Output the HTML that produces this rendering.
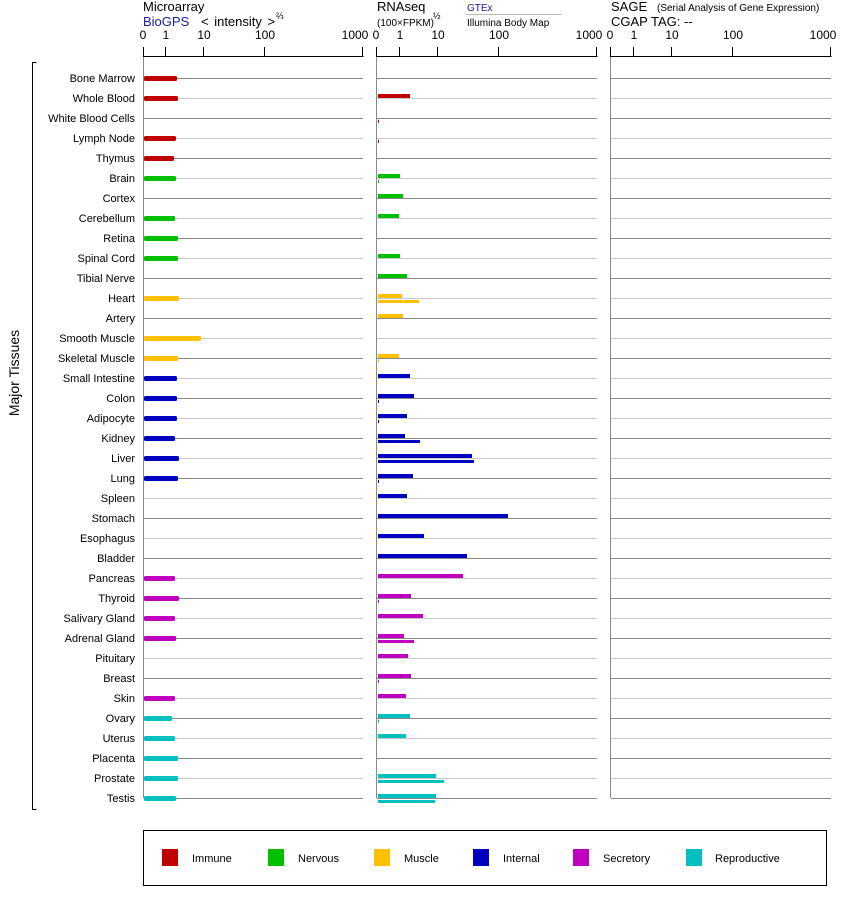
<!DOCTYPE html>
<html><head><meta charset="utf-8"><style>
body{margin:0;background:#fff}
svg{display:block;font-family:"Liberation Sans",Arial,sans-serif}
</style></head><body>
<svg id="s" width="842" height="900" xmlns="http://www.w3.org/2000/svg">
<g font-size="13" fill="#000">
<text x="143" y="11">Microarray</text>
<text x="143" y="26" fill="#1a1aa6">BioGPS</text>
<text x="201" y="26" word-spacing="2">&lt; intensity &gt;</text>
<text x="276" y="19" font-size="9">⅔</text>
<text x="377" y="11">RNAseq</text>
<text x="377" y="26" font-size="10">(100×FPKM)</text>
<text x="433" y="19" font-size="9">½</text>
<text x="467" y="11" font-size="10" fill="#1a1aa6">GTEx</text>
<line x1="466" y1="14.5" x2="562" y2="14.5" stroke="#bbb"/>
<text x="467" y="26" font-size="10">Illumina Body Map</text>
<text x="611" y="11">SAGE</text>
<text x="657" y="11" font-size="10">(Serial Analysis of Gene Expression)</text>
<text x="611" y="26">CGAP TAG:  --</text>
</g>
<g id="g"></g>
</svg>
<script>
var NS="http://www.w3.org/2000/svg",g=document.getElementById('g');
function el(t,a,txt){var e=document.createElementNS(NS,t);for(var k in a)e.setAttribute(k,a[k]);if(txt)e.textContent=txt;g.appendChild(e);return e;}
var C={I:'#c00000',N:'#00c000',M:'#ffc000',T:'#0000c0',S:'#c000c0',R:'#00c0c0'};
var panels=[[144,166,204,265,363],[377,400,438,499,597],[611,634,672,733,831]];
var labs=['0','1','10','100','1000'];
var off=[-1,0,0,0,-8];
panels.forEach(function(p){
  el('line',{x1:p[0]-0.5,y1:56.5,x2:p[4]+0.5,y2:56.5,stroke:'#000'});
  p.forEach(function(x,i){el('line',{x1:x-0.5,y1:47,x2:x-0.5,y2:57,stroke:'#000'});
    el('text',{x:x+off[i],y:39,'font-size':'12','text-anchor':'middle'},labs[i]);});
  el('line',{x1:p[0]-0.5,y1:57,x2:p[0]-0.5,y2:798,stroke:'#888'});
});
var rows=[
['Bone Marrow','I',177,0,0],['Whole Blood','I',178,410,0],['White Blood Cells','I',0,0,379],['Lymph Node','I',176,0,379],['Thymus','I',174,0,0],
['Brain','N',176,400,379],['Cortex','N',0,403,0],['Cerebellum','N',175,399,0],['Retina','N',178,0,0],['Spinal Cord','N',178,400,0],['Tibial Nerve','N',0,407,0],
['Heart','M',179,402,419],['Artery','M',0,403,0],['Smooth Muscle','M',201,0,0],['Skeletal Muscle','M',178,399,379],
['Small Intestine','T',177,410,0],['Colon','T',177,414,379],['Adipocyte','T',177,407,379],['Kidney','T',175,405,420],['Liver','T',179,472,474],['Lung','T',178,413,379],['Spleen','T',0,407,0],['Stomach','T',0,508,0],['Esophagus','T',0,424,0],['Bladder','T',0,467,0],
['Pancreas','S',175,463,0],['Thyroid','S',179,411,379],['Salivary Gland','S',175,423,0],['Adrenal Gland','S',176,404,414],['Pituitary','S',0,408,0],['Breast','S',0,411,379],['Skin','S',175,406,0],
['Ovary','R',172,410,379],['Uterus','R',175,406,0],['Placenta','R',178,0,0],['Prostate','R',178,436,444],['Testis','R',176,436,435]];
rows.forEach(function(r,i){
  var y=78+i*20,col=i%2?'#c8c8c8':'#888';
  panels.forEach(function(p){el('line',{x1:p[0],y1:y+0.5,x2:p[4],y2:y+0.5,stroke:col});});
  el('text',{x:135,y:y+4,'font-size':'11','text-anchor':'end'},r[0]);
  var c=C[r[1]];
  if(r[2])el('rect',{x:144,y:y-2,width:r[2]-144,height:5,fill:c,rx:1.5});
  if(r[3])el('rect',{x:378,y:y-4,width:r[3]-378,height:4,fill:c});
  if(r[4])el('rect',{x:378,y:y+2,width:r[4]-378,height:3,fill:c});
});
el('path',{d:'M36.5 62.5H32.5V809.5H36.5',fill:'none',stroke:'#000'});
el('text',{x:0,y:0,'font-size':'14',transform:'translate(19,373) rotate(-90)','text-anchor':'middle'},'Major Tissues');
el('rect',{x:143.5,y:830.5,width:683,height:55,fill:'none',stroke:'#000'});
[['I',162,192,'Immune'],['N',268,298,'Nervous'],['M',374,404,'Muscle'],['T',473,503,'Internal'],['S',573,603,'Secretory'],['R',686,715,'Reproductive']].forEach(function(l){
  el('rect',{x:l[1],y:849,width:16,height:17,fill:C[l[0]]});
  el('text',{x:l[2],y:862,'font-size':'11'},l[3]);
});
</script>
</body></html>
